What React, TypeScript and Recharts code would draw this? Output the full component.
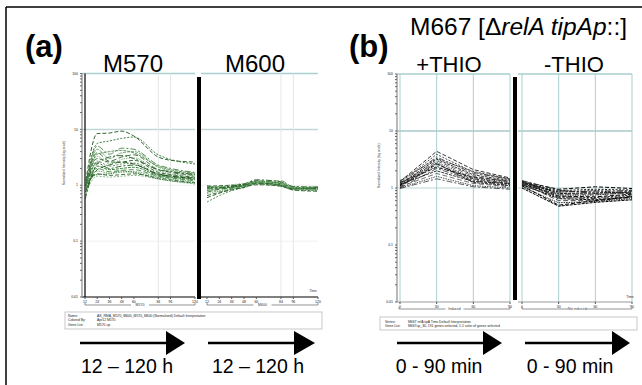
import React from "react";
import { LineChart, Line, XAxis, YAxis, ReferenceLine } from "recharts";

// time points (hours for panel a, minutes for panel b)
const hoursA = [12, 24, 36, 48, 60, 84, 96, 120];
const minutesB = [0, 30, 60, 90];

// M570 profiles, one array per gene, values at hoursA
const m570Profiles = [
  [0.95, 8.4, 8.6, 9.3, 7.6, 3.2, 2.8, 2.6],
  [0.9, 5.6, 6.2, 6.9, 7.3, 3.5, 2.9, 2.4],
  [0.8, 5.0, 3.6, 4.6, 4.4, 2.3, 2.0, 1.7],
  [0.75, 4.4, 3.0, 3.8, 4.0, 2.1, 1.8, 1.6],
  [1.0, 3.8, 2.7, 3.2, 3.5, 1.9, 1.7, 1.5],
  [0.7, 3.3, 2.4, 2.9, 3.1, 1.8, 1.6, 1.5],
  [0.85, 3.0, 2.6, 2.6, 2.8, 1.7, 1.55, 1.4],
  [0.6, 2.7, 2.2, 2.4, 2.5, 1.6, 1.5, 1.35],
  [0.9, 2.5, 2.0, 2.2, 2.3, 1.55, 1.45, 1.3],
  [0.65, 2.2, 1.9, 2.0, 2.1, 1.5, 1.4, 1.25],
  [1.05, 2.0, 1.75, 1.85, 1.9, 1.45, 1.35, 1.2],
  [0.8, 1.8, 1.65, 1.7, 1.75, 1.4, 1.3, 1.15],
  [0.95, 1.6, 1.5, 1.55, 1.6, 1.35, 1.25, 1.1],
  [0.7, 1.45, 1.4, 1.45, 1.5, 1.3, 1.2, 1.05],
  [0.55, 2.4, 3.2, 3.4, 3.0, 1.9, 1.75, 1.55],
  [0.85, 3.6, 4.0, 4.2, 3.8, 2.2, 1.9, 1.65],
  [0.75, 1.9, 2.3, 2.6, 2.4, 1.6, 1.45, 1.35],
  [1.0, 1.55, 1.6, 1.8, 1.7, 1.3, 1.2, 1.1],
];

// M600 profiles, values at hoursA
const m600Profiles = [
  [0.95, 0.98, 1.0, 1.05, 1.2, 1.05, 0.92, 0.9],
  [0.9, 0.95, 0.98, 1.02, 1.15, 1.1, 0.9, 0.88],
  [0.85, 0.9, 0.95, 1.0, 1.1, 1.0, 0.88, 0.92],
  [0.8, 0.88, 0.92, 0.98, 1.12, 1.02, 0.85, 0.85],
  [0.75, 0.85, 0.9, 1.0, 1.08, 0.98, 0.87, 0.9],
  [0.7, 0.8, 0.88, 0.95, 1.05, 0.96, 0.84, 0.82],
  [0.6, 0.72, 0.85, 0.92, 1.1, 1.0, 0.86, 0.87],
  [0.5, 0.65, 0.8, 0.9, 1.05, 0.95, 0.83, 0.8],
  [0.98, 0.92, 0.96, 1.05, 1.25, 1.15, 0.95, 0.93],
  [0.92, 0.9, 0.93, 1.0, 1.18, 1.08, 0.9, 0.86],
  [0.88, 0.86, 0.9, 0.97, 1.1, 1.2, 0.93, 0.9],
  [0.82, 0.78, 0.87, 0.95, 1.14, 1.12, 0.88, 0.84],
  [0.65, 0.75, 0.82, 0.93, 1.02, 0.97, 0.82, 0.78],
  [0.96, 0.94, 1.02, 1.08, 1.16, 1.04, 0.91, 0.95],
];

// M667 +THIO (induced), values at minutesB
const thioOnProfiles = [
  [1.3, 4.4, 2.1, 1.5],
  [1.25, 3.9, 1.9, 1.4],
  [1.2, 3.5, 1.8, 1.45],
  [1.15, 3.2, 1.7, 1.35],
  [1.1, 3.0, 1.6, 1.3],
  [1.2, 2.8, 1.5, 1.25],
  [1.05, 2.6, 1.45, 1.2],
  [1.1, 2.4, 1.4, 1.15],
  [1.0, 2.2, 1.35, 1.1],
  [1.15, 2.0, 1.3, 1.2],
  [1.05, 1.8, 1.2, 1.05],
  [1.0, 1.6, 1.1, 1.0],
  [1.25, 2.3, 1.55, 1.3],
  [1.35, 3.3, 1.95, 1.45],
  [0.98, 1.45, 1.05, 0.95],
  [1.1, 2.7, 1.25, 1.1],
];

// M667 -THIO (not induced), values at minutesB
const thioOffProfiles = [
  [1.3, 0.95, 1.05, 0.98],
  [1.25, 0.9, 0.95, 0.92],
  [1.2, 0.85, 0.88, 0.9],
  [1.3, 0.8, 0.82, 0.85],
  [1.15, 0.78, 0.78, 0.8],
  [1.25, 0.75, 0.75, 0.85],
  [1.2, 0.72, 0.7, 0.78],
  [1.1, 0.7, 0.68, 0.75],
  [1.3, 0.68, 0.65, 0.72],
  [1.15, 0.65, 0.62, 0.7],
  [1.2, 0.6, 0.6, 0.68],
  [1.05, 0.55, 0.58, 0.65],
  [1.1, 0.5, 0.6, 0.7],
  [1.25, 0.85, 0.9, 0.8],
  [1.35, 0.92, 0.8, 0.88],
  [1.0, 0.48, 0.56, 0.62],
];

const logTicks = [
  0.01, 0.02, 0.03, 0.04, 0.05, 0.06, 0.07, 0.08, 0.09,
  0.1, 0.2, 0.3, 0.4, 0.5, 0.6, 0.7, 0.8, 0.9,
  1, 2, 3, 4, 5, 6, 7, 8, 9,
  10, 20, 30, 40, 50, 60, 70, 80, 90,
  100,
];
const decadeLabels: Record<string, string> = {
  "0.01": "0.01",
  "0.1": "0.1",
  "1": "1",
  "10": "10",
  "100": "100",
};

const FONT = '"Liberation Sans", Arial, Helvetica, sans-serif';
const GREENS = ["#1a4f1a", "#2a6f2a", "#3f833f", "#5e9c5e", "#2f5f2f", "#7aae7a", "#205a20", "#4c864c"];
const BLACKS = ["#000000", "#1a1a1a", "#333333", "#000000", "#4a4a4a", "#222222"];
const DASHES = ["4 2", "2 1.5", "6 2 2 2", "3 1", "5 2.5", "1.5 1"];
const TEAL = "#a9cfd0";

function buildRows(xs: number[], profiles: number[][]) {
  return xs.map((t, i) => {
    const row: Record<string, number> = { t };
    profiles.forEach((p, j) => {
      row["g" + j] = p[i];
    });
    return row;
  });
}

type HLine = { y: number; color: string; w: number };

interface PlotProps {
  left: number;
  top: number;
  width: number;
  height: number;
  margin: { top: number; right: number; bottom: number; left: number };
  xs: number[];
  profiles: number[][];
  palette: string[];
  domain: [number, number];
  padLeft: number;
  showY: boolean;
  vLines: number[];
  vColor: string;
  hLines: HLine[];
  xAxisColor: string;
  curve: "monotone" | "linear";
  lineWidth: number;
  edgeX?: number;
}

function ProfilePlot(p: PlotProps) {
  const rows = buildRows(p.xs, p.profiles);
  return (
    <div style={{ position: "absolute", left: p.left, top: p.top }}>
      <LineChart width={p.width} height={p.height} data={rows} margin={p.margin}>
        <XAxis
          type="number"
          dataKey="t"
          domain={p.domain}
          ticks={p.xs}
          interval={0}
          padding={{ left: p.padLeft, right: 0 }}
          height={9}
          tickSize={2}
          stroke="#444"
          tick={{ fontSize: 3.5, fill: "#222", fontFamily: FONT }}
          axisLine={{ stroke: p.xAxisColor }}
          tickLine={{ stroke: "#555" }}
          allowDataOverflow
        />
        <YAxis
          hide={!p.showY}
          type="number"
          scale="log"
          domain={[0.01, 100]}
          ticks={logTicks}
          interval={0}
          allowDataOverflow
          width={40}
          tickSize={2}
          stroke="#444"
          tick={{ fontSize: 3.5, fill: "#222", fontFamily: FONT }}
          tickFormatter={(v: number) => decadeLabels[String(v)] ?? ""}
          axisLine={{ stroke: "#8a8a8a", strokeWidth: 1.2 }}
          tickLine={{ stroke: "#666" }}
          label={{
            value: "Normalized Intensity (log scale)",
            angle: -90,
            position: "insideLeft",
            offset: 22,
            style: { fontSize: 3.2, fill: "#333", fontFamily: FONT },
          }}
        />
        {p.hLines.map((h) => (
          <ReferenceLine key={"h" + h.y} y={h.y} stroke={h.color} strokeWidth={h.w} />
        ))}
        {p.vLines.map((x) => (
          <ReferenceLine key={"v" + x} x={x} stroke={p.vColor} strokeWidth={1} />
        ))}
        {p.edgeX !== undefined && (
          <ReferenceLine x={p.edgeX} stroke="#000" strokeWidth={1.2} />
        )}
        {p.profiles.map((_, j) => (
          <Line
            key={j}
            type={p.curve}
            dataKey={"g" + j}
            stroke={p.palette[j % p.palette.length]}
            strokeWidth={p.lineWidth}
            strokeDasharray={DASHES[j % DASHES.length]}
            dot={false}
            isAnimationActive={false}
          />
        ))}
      </LineChart>
    </div>
  );
}

function Arrow({ x1, x2, tip, y }: { x1: number; x2: number; tip: number; y: number }) {
  return (
    <g>
      <line x1={x1} y1={y} x2={x2} y2={y} stroke="#000" strokeWidth={2.5} />
      <polygon points={`${x2},${y - 12} ${tip},${y} ${x2},${y + 12}`} fill="#000" />
    </g>
  );
}

function Bracket({ x1, x2, y, label }: { x1: number; x2: number; y: number; label: string }) {
  const mid = (x1 + x2) / 2;
  return (
    <g>
      <polyline points={`${x1},${y - 2} ${x1},${y} ${x2},${y} ${x2},${y - 2}`} fill="none" stroke="#666" strokeWidth={0.7} />
      <rect x={mid - 9} y={y - 2} width={18} height={4} fill="#fff" />
      <text x={mid} y={y + 1.2} fontSize={3.5} textAnchor="middle" fill="#333">{label}</text>
    </g>
  );
}

export default function App() {
  const hLinesA: HLine[] = [
    { y: 100, color: TEAL, w: 1.5 },
    { y: 10, color: "#c3d6d6", w: 1.5 },
    { y: 1, color: "#eeeeee", w: 1 },
    { y: 0.1, color: "#f0f0f0", w: 1 },
  ];
  const hLinesB: HLine[] = [
    { y: 100, color: TEAL, w: 1.5 },
    { y: 10, color: "#bfd6d7", w: 2 },
    { y: 1, color: "#d3e2e2", w: 1.5 },
  ];
  return (
    <div style={{ position: "absolute", left: 0, top: 0, width: 642, height: 385, background: "#fff", fontFamily: FONT, overflow: "hidden" }}>
      <ProfilePlot
        left={40} top={60} width={160} height={260}
        margin={{ top: 13.5, right: 5, bottom: 14, left: 2 }}
        xs={hoursA} profiles={m570Profiles} palette={GREENS}
        domain={[12, 120]} padLeft={3} showY
        vLines={[84, 96]} vColor="#e6e6e6" hLines={hLinesA}
        xAxisColor="#000" curve="monotone" lineWidth={0.9} edgeX={12}
      />
      <ProfilePlot
        left={195} top={60} width={130} height={260}
        margin={{ top: 13.5, right: 7, bottom: 14, left: 6 }}
        xs={hoursA} profiles={m600Profiles} palette={GREENS}
        domain={[12, 120]} padLeft={6} showY={false}
        vLines={[84, 96]} vColor="#e6e6e6" hLines={hLinesA}
        xAxisColor="#000" curve="monotone" lineWidth={0.9}
      />
      <ProfilePlot
        left={355} top={60} width={160} height={265}
        margin={{ top: 14, right: 5, bottom: 14, left: 2 }}
        xs={minutesB} profiles={thioOnProfiles} palette={BLACKS}
        domain={[0, 90]} padLeft={3} showY
        vLines={[0, 30, 60, 90]} vColor={TEAL} hLines={hLinesB}
        xAxisColor="#9a9a9a" curve="linear" lineWidth={0.8}
      />
      <ProfilePlot
        left={515} top={60} width={127} height={265}
        margin={{ top: 14, right: 10, bottom: 14, left: 3 }}
        xs={minutesB} profiles={thioOffProfiles} palette={BLACKS}
        domain={[0, 90]} padLeft={4} showY={false}
        vLines={[0, 30, 60, 90]} vColor={TEAL} hLines={hLinesB}
        xAxisColor="#9a9a9a" curve="linear" lineWidth={1}
      />

      <svg width={642} height={385} style={{ position: "absolute", left: 0, top: 0, fontFamily: FONT }}>
        {/* frame */}
        <line x1={6} y1={7} x2={642} y2={7} stroke="#000" strokeWidth={1.5} />
        <line x1={6} y1={7} x2={6} y2={385} stroke="#000" strokeWidth={1.5} />

        {/* titles */}
        <text x={25} y={57} fontSize={31} fontWeight="bold">(a)</text>
        <text x={133} y={72} fontSize={24} textAnchor="middle">M570</text>
        <text x={255} y={72} fontSize={24} textAnchor="middle">M600</text>
        <text x={349} y={57} fontSize={31} fontWeight="bold">(b)</text>
        <text x={410} y={35} fontSize={24.5}>
          M667 [Δ<tspan fontStyle="italic">relA tipAp</tspan>::]
        </text>
        <text x={449} y={72} fontSize={22} textAnchor="middle">+THIO</text>
        <text x={574} y={72} fontSize={22} textAnchor="middle">-THIO</text>

        {/* thick separators between conditions */}
        <rect x={197} y={77} width={4} height={222} fill="#000" />
        <rect x={513} y={77} width={4} height={223} fill="#000" />

        {/* condition brackets under the x axes */}
        <Bracket x1={85} x2={195} y={305} label="M570" />
        <Bracket x1={207} x2={318} y={305} label="M600" />
        <Bracket x1={399} x2={510} y={309} label="Induced" />
        <Bracket x1={522} x2={632} y={309} label="Not induced" />
        <text x={313} y={292} fontSize={3.5} textAnchor="middle" fill="#333">Time</text>
        <text x={630} y={298} fontSize={3.5} textAnchor="middle" fill="#333">Time</text>

        {/* legend boxes */}
        <rect x={65} y={312} width={257} height={17} fill="#fff" stroke="#bbb" strokeWidth={0.8} />
        <g fontSize={3.4} fill="#222">
          <text x={68} y={316.5}>Name:</text>
          <text x={97} y={316.5}>AS_RMA_M570_M600_M570_M600 (Normalised) Default Interpretation</text>
          <text x={68} y={321}>Colored By:</text>
          <text x={97} y={321}>Apr12 M570</text>
          <text x={68} y={325.5}>Gene List:</text>
          <text x={97} y={325.5}>M570 up</text>
        </g>
        <rect x={380} y={317} width={257} height={13} fill="#fff" stroke="#bbb" strokeWidth={0.8} />
        <g fontSize={3.4} fill="#222">
          <text x={385} y={322.5}>Vertex:</text>
          <text x={408} y={322.5}>M667 relA tipA Time Default Interpretation</text>
          <text x={385} y={327}>Gene List:</text>
          <text x={408} y={327}>M667up_30, 191 genes selected, 1-1 color of genes selected</text>
        </g>

        {/* time arrows */}
        <Arrow x1={80} x2={166} tip={185} y={343} />
        <Arrow x1={208} x2={294} tip={315} y={343} />
        <Arrow x1={397} x2={483} tip={502} y={343} />
        <Arrow x1={525} x2={612} tip={630} y={343} />
        <text x={127} y={373} fontSize={19.5} textAnchor="middle">12 – 120 h</text>
        <text x={258} y={373} fontSize={19.5} textAnchor="middle">12 – 120 h</text>
        <text x={439} y={373} fontSize={19.5} textAnchor="middle">0 - 90 min</text>
        <text x={570} y={373} fontSize={19.5} textAnchor="middle">0 - 90 min</text>
      </svg>
    </div>
  );
}
